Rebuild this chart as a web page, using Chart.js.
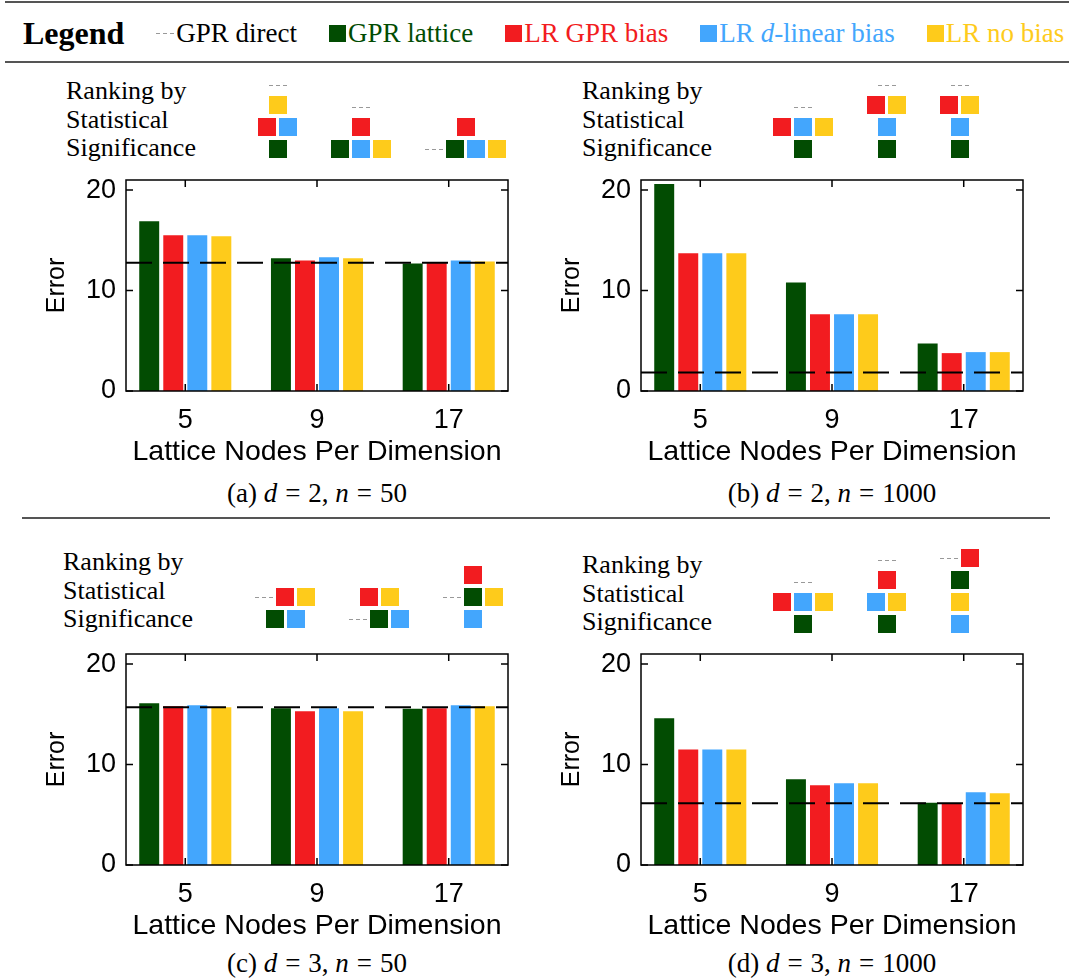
<!DOCTYPE html>
<html>
<head>
<meta charset="utf-8">
<script src="https://cdn.jsdelivr.net/npm/chart.js@4.4.0/dist/chart.umd.min.js"></script>
<style>
  body { margin: 0; background: #fff; width: 1069px; height: 978px; position: relative; overflow: hidden;
         font-family: 'Liberation Serif', 'Times New Roman', serif; color: #000; }
  .hr { position: absolute; height: 2px; background: #555; }
  #legend { position: absolute; left: 23px; top: 4px; height: 58px; display: flex; align-items: center; gap: 32px; font-size: 27px; white-space: nowrap; }
  #legend b { font-size: 32px; }
  .li { display: flex; align-items: center; gap: 2px; }
  .li .sq { width: 17px; height: 17px; }
  .rd { width: 18px; height: 1px; background: repeating-linear-gradient(to right, #999 0 4px, transparent 4px 7px); }
  .rtext { position: absolute; font-size: 26px; line-height: 28.5px; }
  .rank { position: absolute; display: flex; align-items: flex-end; gap: 34px; transform: translateY(-100%); }
  .rcol { display: flex; flex-direction: column; align-items: center; gap: 4px; }
  .rrow { display: flex; align-items: center; gap: 3px; height: 18px; }
  .rrow.dash { height: 14px; }
  .rrow .sq { width: 18px; height: 18px; }
  canvas { position: absolute; }
  .cap { position: absolute; width: 382px; text-align: center; font-size: 27px; line-height: 26px; }
  .cap .eq { margin: 0 8px; }
</style>
</head>
<body>
<div class="hr" style="left:5px;top:1px;width:1064px"></div>
<div class="hr" style="left:5px;top:61px;width:1064px"></div>
<div class="hr" style="left:22px;top:517px;width:1028px;height:1.5px"></div>
<div id="legend"><b>Legend</b></div>

<div class="rtext" style="left:66px;top:77px">Ranking by<br>Statistical<br>Significance</div>
<div class="rtext" style="left:582px;top:77px">Ranking by<br>Statistical<br>Significance</div>
<div class="rtext" style="left:63px;top:548px">Ranking by<br>Statistical<br>Significance</div>
<div class="rtext" style="left:582px;top:551px">Ranking by<br>Statistical<br>Significance</div>
<div class="rank" id="rankA" style="left:258px;top:158px"></div>
<div class="rank" id="rankB" style="left:773px;top:158px"></div>
<div class="rank" id="rankC" style="left:255px;top:628px"></div>
<div class="rank" id="rankD" style="left:773px;top:633px"></div>

<canvas id="chartA" width="490" height="300" style="left:40px;top:170px"></canvas>
<canvas id="chartB" width="490" height="300" style="left:555px;top:170px"></canvas>
<canvas id="chartC" width="490" height="300" style="left:40px;top:644px"></canvas>
<canvas id="chartD" width="490" height="300" style="left:555px;top:644px"></canvas>

<div class="cap" style="left:126px;top:480px">(a) <i>d</i><span class="eq">=</span>2, <i>n</i><span class="eq">=</span>50</div>
<div class="cap" style="left:641px;top:480px">(b) <i>d</i><span class="eq">=</span>2, <i>n</i><span class="eq">=</span>1000</div>
<div class="cap" style="left:126px;top:950px">(c) <i>d</i><span class="eq">=</span>3, <i>n</i><span class="eq">=</span>50</div>
<div class="cap" style="left:641px;top:950px">(d) <i>d</i><span class="eq">=</span>3, <i>n</i><span class="eq">=</span>1000</div>

<script>
const nodes = ['5', '9', '17'];
const seriesNames = ['GPR lattice', 'LR GPR bias', 'LR d-linear bias', 'LR no bias'];
const seriesKeys = ['G', 'R', 'B', 'Y'];
const seriesColors = ['#024c02', '#f21c20', '#43a6fd', '#fecb1b'];
const directName = 'GPR direct';

// (a) d = 2, n = 50
const latticeA = [16.9, 13.2, 12.7];
const gprBiasA = [15.5, 13.0, 12.75];
const linBiasA = [15.5, 13.3, 13.0];
const noBiasA = [15.4, 13.2, 12.9];
const directA = 12.77;

// (b) d = 2, n = 1000
const latticeB = [20.6, 10.8, 4.73];
const gprBiasB = [13.7, 7.64, 3.77];
const linBiasB = [13.7, 7.64, 3.87];
const noBiasB = [13.7, 7.64, 3.87];
const directB = 1.85;

// (c) d = 3, n = 50
const latticeC = [16.1, 15.6, 15.55];
const gprBiasC = [15.8, 15.3, 15.6];
const linBiasC = [15.9, 15.6, 15.9];
const noBiasC = [15.7, 15.3, 15.8];
const directC = 15.7;

// (d) d = 3, n = 1000
const latticeD = [14.6, 8.54, 6.2];
const gprBiasD = [11.5, 7.94, 6.15];
const linBiasD = [11.5, 8.14, 7.24];
const noBiasD = [11.5, 8.14, 7.14];
const directD = 6.15;

// ranking rows, top to bottom, per lattice size (D = GPR direct)
const rankA = [[['D'], ['Y'], ['R', 'B'], ['G']], [['D'], ['R'], ['G', 'B', 'Y']], [['R'], ['D', 'G', 'B', 'Y']]];
const rankB = [[['D'], ['R', 'B', 'Y'], ['G']], [['D'], ['R', 'Y'], ['B'], ['G']], [['D'], ['R', 'Y'], ['B'], ['G']]];
const rankC = [[['D', 'R', 'Y'], ['G', 'B']], [['R', 'Y'], ['D', 'G', 'B']], [['R'], ['D', 'G', 'Y'], ['B']]];
const rankD = [[['D'], ['R', 'B', 'Y'], ['G']], [['D'], ['R'], ['B', 'Y'], ['G']], [['D', 'R'], ['G'], ['Y'], ['B']]];

// legend
const legend = document.getElementById('legend');
const li0 = document.createElement('span');
li0.className = 'li';
li0.innerHTML = '<span class="rd"></span><span>' + directName + '</span>';
legend.appendChild(li0);
seriesNames.forEach((name, i) => {
  const li = document.createElement('span');
  li.className = 'li';
  li.style.color = seriesColors[i];
  li.innerHTML = '<span class="sq" style="background:' + seriesColors[i] + '"></span><span>' +
    name.replace('d-', '<i>d</i>-') + '</span>';
  legend.appendChild(li);
});

function drawRanking(id, groups) {
  const el = document.getElementById(id);
  groups.forEach(rows => {
    const col = document.createElement('div');
    col.className = 'rcol';
    rows.forEach(row => {
      const r = document.createElement('div');
      r.className = 'rrow' + (row.length === 1 && row[0] === 'D' ? ' dash' : '');
      row.forEach(k => {
        const s = document.createElement('span');
        if (k === 'D') {
          s.className = 'rd';
        } else {
          s.className = 'sq';
          s.style.background = seriesColors[seriesKeys.indexOf(k)];
        }
        r.appendChild(s);
      });
      col.appendChild(r);
    });
    el.appendChild(col);
  });
}

// GPR direct reference line, drawn on the y scale across the plot
const directPlugin = {
  id: 'direct',
  afterDatasetsDraw(chart, args, opts) {
    const {ctx, chartArea: a, scales: {y}} = chart;
    const py = y.getPixelForValue(opts.value);
    ctx.save();
    ctx.strokeStyle = '#000';
    ctx.lineWidth = 2;
    ctx.setLineDash([26, 11]);
    ctx.beginPath();
    ctx.moveTo(a.left, py);
    ctx.lineTo(a.right, py);
    ctx.stroke();
    ctx.restore();
  }
};

// matlab style box with inward ticks
const boxPlugin = {
  id: 'box',
  afterDraw(chart) {
    const {ctx, chartArea: a, scales: {x, y}} = chart;
    ctx.save();
    ctx.strokeStyle = '#000';
    ctx.lineWidth = 1.5;
    ctx.strokeRect(a.left, a.top, a.width, a.height);
    ctx.beginPath();
    y.ticks.forEach(t => {
      const py = y.getPixelForValue(t.value);
      ctx.moveTo(a.left, py); ctx.lineTo(a.left + 7, py);
      ctx.moveTo(a.right, py); ctx.lineTo(a.right - 7, py);
    });
    x.ticks.forEach(t => {
      const px = x.getPixelForValue(t.value);
      ctx.moveTo(px, a.top); ctx.lineTo(px, a.top + 7);
      ctx.moveTo(px, a.bottom); ctx.lineTo(px, a.bottom - 7);
    });
    ctx.stroke();
    ctx.restore();
  }
};

const sans = "'Liberation Sans', Arial, Helvetica, sans-serif";

function drawPanel(id, series, direct) {
  const datasets = series.map((vals, i) => ({
    label: seriesNames[i],
    data: vals.map((v, j) => ({x: j + 1, y: v})),
    backgroundColor: seriesColors[i],
    categoryPercentage: 0.73,
    barPercentage: 0.83
  }));
  new Chart(document.getElementById(id), {
    type: 'bar',
    data: {datasets: datasets},
    options: {
      responsive: false,
      animation: false,
      layout: {padding: {top: 10, right: 22, left: 0, bottom: 0}},
      plugins: {legend: {display: false}, tooltip: {enabled: false}, direct: {value: direct}},
      scales: {
        x: {
          type: 'linear',
          min: 0.55,
          max: 3.45,
          offset: false,
          grid: {display: false},
          border: {display: false},
          ticks: {stepSize: 1, includeBounds: false, color: '#000', padding: 5,
                  font: {family: sans, size: 27}, callback: v => nodes[v - 1]},
          title: {display: true, text: 'Lattice Nodes Per Dimension', color: '#000',
                  font: {family: sans, size: 28.5}, padding: {top: 0, bottom: 1}},
          afterFit: s => { s.height = 79; s.paddingLeft = 0; s.paddingRight = 0; }
        },
        y: {
          min: 0,
          max: 21,
          grid: {display: false},
          border: {display: false},
          ticks: {stepSize: 10, includeBounds: false, color: '#000', padding: 2, font: {family: sans, size: 27}},
          title: {display: true, text: 'Error', color: '#000', font: {family: sans, size: 25}, padding: {top: 2, bottom: 0}},
          afterFit: s => { s.width = 86; s.paddingTop = 0; s.paddingBottom = 0; }
        }
      }
    },
    plugins: [directPlugin, boxPlugin]
  });
}

drawRanking('rankA', rankA);
drawRanking('rankB', rankB);
drawRanking('rankC', rankC);
drawRanking('rankD', rankD);

drawPanel('chartA', [latticeA, gprBiasA, linBiasA, noBiasA], directA);
drawPanel('chartB', [latticeB, gprBiasB, linBiasB, noBiasB], directB);
drawPanel('chartC', [latticeC, gprBiasC, linBiasC, noBiasC], directC);
drawPanel('chartD', [latticeD, gprBiasD, linBiasD, noBiasD], directD);
</script>
</body>
</html>
